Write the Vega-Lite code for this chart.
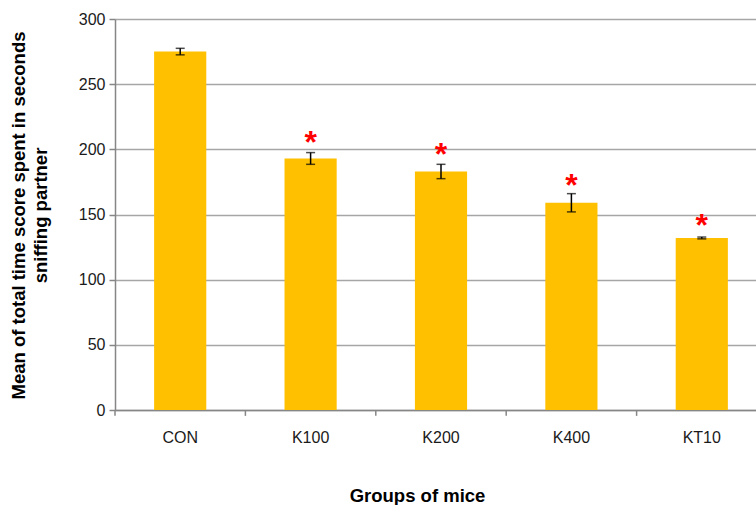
{
  "$schema": "https://vega.github.io/schema/vega-lite/v6.json",
  "autosize": "none",
  "width": 652,
  "height": 391,
  "padding": {"left": 115, "top": 19, "right": 0, "bottom": 95},
  "background": "white",
  "config": {
    "view": {"stroke": null},
    "font": "Liberation Sans",
    "axis": {"labelFont": "Liberation Sans", "titleFont": "Liberation Sans"}
  },
  "data": {
    "values": [
      {"group": "CON", "mean": 275, "lo": 272.5, "hi": 277.5, "sig": null},
      {"group": "K100", "mean": 193, "lo": 188.5, "hi": 197.5, "sig": 211},
      {"group": "K200", "mean": 183, "lo": 177.5, "hi": 188.5, "sig": 201.5},
      {"group": "K400", "mean": 159, "lo": 152, "hi": 166, "sig": 178},
      {"group": "KT10", "mean": 132, "lo": 131.3, "hi": 132.7, "sig": 147}
    ]
  },
  "encoding": {
    "x": {
      "field": "group",
      "type": "nominal",
      "sort": null,
      "scale": {"paddingInner": 0.6, "paddingOuter": 0.3}
    }
  },
  "layer": [
    {
      "mark": {"type": "bar", "color": "#FFC000"},
      "encoding": {
        "x": {
          "field": "group", "type": "nominal", "sort": null,
          "axis": {
            "title": "Groups of mice",
            "titleFontSize": 18.5, "titleFontWeight": "bold", "titleColor": "#000000",
            "titleX": 302, "titleY": 91, "titleBaseline": "alphabetic",
            "labelAngle": 0, "labelFontSize": 16, "labelColor": "#1a1a1a",
            "labelPadding": 19,
            "ticks": false,
            "domainColor": "#868686", "domainWidth": 1.5
          }
        },
        "y": {
          "field": "mean", "type": "quantitative",
          "scale": {"domain": [0, 300]},
          "axis": {
            "title": ["Mean of total time score spent in seconds", "sniffing partner"],
            "titleFontSize": 18.5, "titleFontWeight": "bold", "titleColor": "#000000",
            "titleX": -87, "titleY": 196, "titleLineHeight": 22,
            "values": [0, 50, 100, 150, 200, 250, 300],
            "labelFontSize": 16, "labelColor": "#1a1a1a", "labelPadding": 4,
            "tickSize": 6, "tickColor": "#868686", "tickWidth": 1.5,
            "domainColor": "#868686", "domainWidth": 1.5,
            "grid": true, "gridColor": "#a6a6a6", "gridWidth": 1.5
          }
        }
      }
    },
    {
      "mark": {"type": "rule", "color": "#000000", "strokeWidth": 1.5},
      "encoding": {
        "y": {"field": "lo", "type": "quantitative"},
        "y2": {"field": "hi"}
      }
    },
    {
      "mark": {"type": "tick", "color": "#000000", "thickness": 1.5, "size": 9, "orient": "horizontal"},
      "encoding": {"y": {"field": "lo", "type": "quantitative"}}
    },
    {
      "mark": {"type": "tick", "color": "#000000", "thickness": 1.5, "size": 9, "orient": "horizontal"},
      "encoding": {"y": {"field": "hi", "type": "quantitative"}}
    },
    {
      "transform": [{"filter": "datum.sig != null"}],
      "mark": {"type": "text", "text": "*", "color": "#ff0000", "fontSize": 32, "fontWeight": "bold", "baseline": "alphabetic", "dy": 18},
      "encoding": {"y": {"field": "sig", "type": "quantitative"}}
    },
    {
      "mark": {"type": "rule", "color": "#868686", "strokeWidth": 1.5},
      "encoding": {
        "x": {"field": "group", "type": "nominal", "sort": null, "bandPosition": -0.75},
        "y": {"datum": 0, "type": "quantitative"},
        "y2": {"datum": -4.5}
      }
    }
  ]
}
